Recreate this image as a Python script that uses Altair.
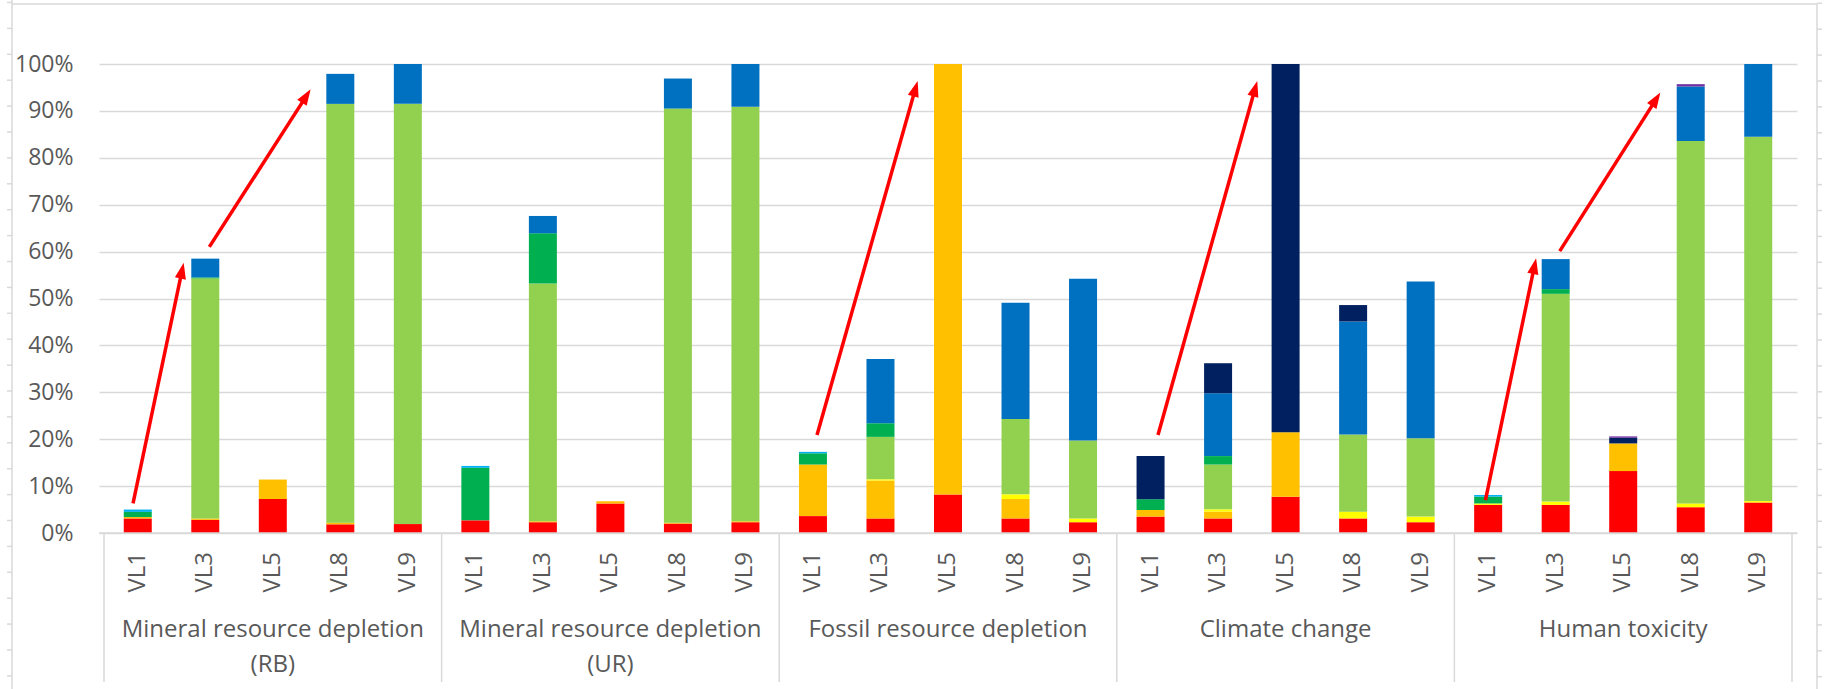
import altair as alt
import pandas as pd
import numpy as np

# ---------------- data ----------------
group_names = [
    "Mineral resource depletion (RB)",
    "Mineral resource depletion (UR)",
    "Fossil resource depletion",
    "Climate change",
    "Human toxicity",
]
group_label_lines = [
    ["Mineral resource depletion", "(RB)"],
    ["Mineral resource depletion", "(UR)"],
    ["Fossil resource depletion"],
    ["Climate change"],
    ["Human toxicity"],
]
variants = ["VL1", "VL3", "VL5", "VL8", "VL9"]

series_names = ["C1", "C2", "C3", "C4", "C5", "C6", "C7", "C8", "C9"]
series_colors = ["#FF0000", "#FFC000", "#FFFF00", "#92D050", "#00B050",
                 "#00B0F0", "#0070C0", "#002060", "#7030A0"]

# values in %, 25 bars each: 5 groups x (VL1, VL3, VL5, VL8, VL9)
c1 = [3.1, 2.8, 7.25, 1.85, 1.9,   2.7, 2.3, 6.3, 2.0, 2.3,   3.6, 3.1, 8.2, 3.1, 2.3,
      3.5, 3.1, 7.75, 3.1, 2.3,    6.0, 6.0, 13.2, 5.5, 6.5]
c2 = [0.3, 0.3, 4.15, 0.35, 0,     0, 0.2, 0.45, 0.2, 0.2,    11.0, 8.1, 91.8, 4.15, 0,
      1.4, 1.45, 13.75, 0, 0,      0, 0, 5.9, 0, 0]
c3 = [0, 0, 0, 0, 0,               0, 0, 0, 0, 0,             0, 0.25, 0, 1.0, 0.8,
      0, 0.5, 0, 1.45, 1.2,        0.3, 0.7, 0, 0.8, 0.3]
c4 = [0, 51.2, 0, 89.3, 89.6,      0, 50.7, 0, 88.3, 88.4,    0, 9.05, 0, 16.05, 16.6,
      0, 9.55, 0, 16.45, 16.7,     0, 44.3, 0, 77.3, 77.7]
c5 = [1.1, 0.2, 0, 0, 0,           11.2, 10.7, 0, 0, 0,       2.4, 2.9, 0, 0, 0,
      2.3, 1.8, 0, 0, 0,           1.45, 1.0, 0, 0, 0]
c6 = [0.5, 0, 0, 0, 0,             0.4, 0, 0, 0, 0,           0.3, 0, 0, 0, 0,
      0, 0, 0, 0, 0,               0.35, 0, 0, 0, 0]
c7 = [0, 4.0, 0, 6.4, 8.5,         0, 3.7, 0, 6.4, 9.1,       0, 13.7, 0, 24.8, 34.5,
      0, 13.4, 0, 24.1, 33.4,      0, 6.4, 0, 11.6, 15.5]
c8 = [0, 0, 0, 0, 0,               0, 0, 0, 0, 0,             0, 0, 0, 0, 0,
      9.2, 6.4, 78.5, 3.5, 0,      0, 0, 1.2, 0, 0]
c9 = [0, 0, 0, 0, 0,               0, 0, 0, 0, 0,             0, 0, 0, 0, 0,
      0, 0, 0, 0, 0,               0, 0, 0.3, 0.5, 0]
series_values = [c1, c2, c3, c4, c5, c6, c7, c8, c9]

# red annotation arrows (in bar-index / fraction units)
arrow_x1 = [-0.07, 1.06, 10.06, 15.11, 19.96, 21.06]
arrow_y1 = [0.063, 0.610, 0.209, 0.209, 0.070, 0.601]
arrow_x2 = [0.68, 2.56, 11.55, 16.58, 20.71, 22.55]
arrow_y2 = [0.576, 0.946, 0.964, 0.964, 0.586, 0.939]

# ---------------- layout ----------------
W, H = 1698, 469
PAD_L, PAD_T, PAD_R, PAD_B = 99, 64, 28, 156
N = len(group_names) * len(variants)
px_x = W / N
px_y = H
FONT = "Open Sans"
GRAY_TXT = "#595959"
LINE = "#D9D9D9"

rows = []
for s_i, (name, vals) in enumerate(zip(series_names, series_values)):
    for i, v in enumerate(vals):
        if v > 0:
            rows.append({"idx": i, "series": name, "order": s_i, "value": v / 100.0})
bars_df = pd.DataFrame(rows)

cat_df = pd.DataFrame({
    "idx": list(range(N)),
    "vl": [variants[i % len(variants)] for i in range(N)],
})
grp_df = pd.DataFrame({
    "center": [g * len(variants) + (len(variants) - 1) / 2 for g in range(len(group_names))],
    "label": group_label_lines,
})
sep_df = pd.DataFrame({"b": [g * len(variants) - 0.5 for g in range(len(group_names) + 1)]})

ar = pd.DataFrame({"x1": arrow_x1, "y1": arrow_y1, "x2": arrow_x2, "y2": arrow_y2})
dxp = (ar.x2 - ar.x1) * px_x
dyp = (ar.y2 - ar.y1) * px_y
L = np.hypot(dxp, dyp)
head = 16.0
ar["hx"] = ar.x2 - (head / 2) * dxp / L / px_x
ar["hy"] = ar.y2 - (head / 2) * dyp / L / px_y
ar["ex"] = ar.x2 - head * 0.8 * dxp / L / px_x
ar["ey"] = ar.y2 - head * 0.8 * dyp / L / px_y
ar["angle"] = np.degrees(np.arctan2(dxp, dyp)) % 360

xscale = alt.Scale(domain=[-0.5, N - 0.5], nice=False, zero=False)
yscale = alt.Scale(domain=[0, 1], nice=False)

bars = alt.Chart(bars_df).mark_bar(size=28).encode(
    x=alt.X("idx:Q", scale=xscale, axis=None),
    y=alt.Y("value:Q", stack="zero", scale=yscale,
            axis=alt.Axis(values=[i / 10 for i in range(11)], format=".0%", title=None,
                          grid=True, gridColor=LINE, gridWidth=1.5, domain=False,
                          ticks=False, labelFont=FONT, labelFontSize=23,
                          labelColor=GRAY_TXT, labelPadding=26)),
    color=alt.Color("series:N", scale=alt.Scale(domain=series_names, range=series_colors),
                    legend=None),
    order=alt.Order("order:Q"),
)

cat_text = alt.Chart(cat_df).mark_text(
    angle=270, align="right", baseline="middle", font=FONT, fontSize=24, color=GRAY_TXT
).encode(x=alt.X("idx:Q", scale=xscale), y=alt.value(H + 19), text="vl:N")

grp_text = alt.Chart(grp_df).mark_text(
    align="center", baseline="alphabetic", font=FONT, fontSize=24, color=GRAY_TXT,
    lineHeight=35
).encode(x=alt.X("center:Q", scale=xscale), y=alt.value(H + 104), text="label")

seps = alt.Chart(sep_df).mark_rule(color=LINE, strokeWidth=1.5).encode(
    x=alt.X("b:Q", scale=xscale), y=alt.value(H), y2=alt.value(H + 149)
)
baseline = alt.Chart(pd.DataFrame({"v": [0.0]})).mark_rule(color=LINE, strokeWidth=1.5).encode(
    y=alt.Y("v:Q", scale=yscale), x=alt.value(0), x2=alt.value(W)
)

arrow_lines = alt.Chart(ar).mark_rule(color="#FF0000", strokeWidth=3.5).encode(
    x=alt.X("x1:Q", scale=xscale), y=alt.Y("y1:Q", scale=yscale),
    x2="ex:Q", y2="ey:Q"
)
arrow_heads = alt.Chart(ar).mark_point(
    shape="M0,-1 L0.7,1 L-0.7,1 Z", filled=True, color="#FF0000", opacity=1, size=256
).encode(
    x=alt.X("hx:Q", scale=xscale), y=alt.Y("hy:Q", scale=yscale),
    angle=alt.Angle("angle:Q", scale=None)
)

# outer frame of the figure
one = pd.DataFrame({"k": [0]})
frame_top = alt.Chart(one).mark_rule(color=LINE, strokeWidth=1.5).encode(
    x=alt.value(-87), x2=alt.value(W + 20), y=alt.value(-60))
frame_left = alt.Chart(one).mark_rule(color=LINE, strokeWidth=1.5).encode(
    x=alt.value(-87), y=alt.value(-64), y2=alt.value(H + PAD_B))
frame_right = alt.Chart(one).mark_rule(color=LINE, strokeWidth=1.5).encode(
    x=alt.value(W + 20), y=alt.value(-60), y2=alt.value(H + PAD_B))
ticks_left = alt.Chart(alt.sequence(0, 27, as_="k")).transform_calculate(
    tv="(533 - (2.5 + 25.9*datum.k))/469").mark_rule(color=LINE, strokeWidth=1.5).encode(
    x=alt.value(-92), x2=alt.value(-87), y=alt.Y("tv:Q", scale=yscale))
ticks_right = alt.Chart(alt.sequence(0, 27, as_="k")).transform_calculate(
    tv="(533 - (3.3 + 25.9*datum.k))/469").mark_rule(color=LINE, strokeWidth=1.5).encode(
    x=alt.value(W + 20), x2=alt.value(W + 25), y=alt.Y("tv:Q", scale=yscale))

chart = alt.layer(
    frame_top, frame_left, frame_right, ticks_left, ticks_right,
    bars, baseline, seps, cat_text, grp_text, arrow_lines, arrow_heads
).properties(
    width=W, height=H,
    padding={"left": PAD_L, "top": PAD_T, "right": PAD_R, "bottom": PAD_B},
    autosize=alt.AutoSizeParams(type="none"),
    background="white",
).configure_view(stroke=None)

chart.save("out.html", embed_options={"renderer": "svg", "actions": False})
